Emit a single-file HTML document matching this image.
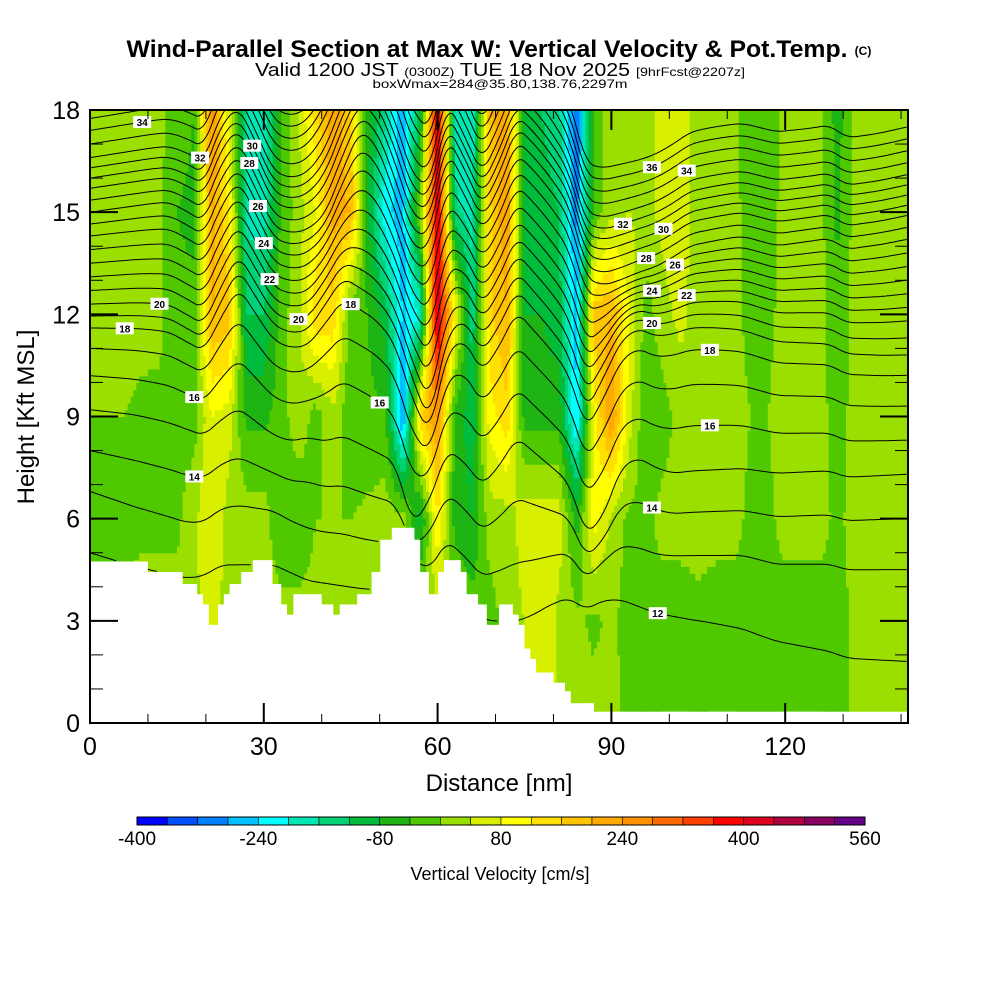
<!DOCTYPE html>
<html><head><meta charset="utf-8"><style>
html,body{margin:0;padding:0;background:#fff;width:1000px;height:1000px;overflow:hidden}
svg text{font-family:"Liberation Sans",sans-serif}
</style></head><body>
<svg id="chart" width="1000" height="1000" viewBox="0 0 1000 1000" xmlns="http://www.w3.org/2000/svg">
<defs><clipPath id="plotclip"><rect x="90" y="110" width="818" height="613"/></clipPath></defs>
<text x="487" y="57" text-anchor="middle" font-weight="bold" font-size="24" textLength="721" lengthAdjust="spacingAndGlyphs">Wind-Parallel Section at Max W: Vertical Velocity &amp; Pot.Temp.</text>
<text x="863" y="55" text-anchor="middle" font-weight="bold" font-size="12">(C)</text>
<text x="500" y="76" text-anchor="middle" font-size="18" textLength="490" lengthAdjust="spacingAndGlyphs">Valid 1200 JST <tspan font-size="12">(0300Z)</tspan> TUE 18 Nov 2025 <tspan font-size="12">[9hrFcst@2207z]</tspan></text>
<text x="500" y="88" text-anchor="middle" font-size="12" textLength="255" lengthAdjust="spacingAndGlyphs">boxWmax=284@35.80,138.76,2297m</text>
<g id="field" clip-path="url(#plotclip)"></g>
<g id="isentropes" clip-path="url(#plotclip)"></g>
<g id="clabels"></g>
<rect x="90" y="110" width="818" height="613" fill="none" stroke="#000" stroke-width="2"/>
<g id="axes"></g>
<text transform="translate(34,417) rotate(-90)" text-anchor="middle" font-size="24">Height [Kft MSL]</text>
<text x="499" y="791" text-anchor="middle" font-size="24">Distance [nm]</text>
<g id="colorbar"></g>
<text x="500" y="880" text-anchor="middle" font-size="18">Vertical Velocity [cm/s]</text>
</svg>
<script>
// ---- data ----
const levelsKft = [0,3,6,9,12,15,18];
const nodeStepNm = 3;
const w00k = [20,20,20,20,20,20,30,60,20,20,20,20,20,20,20,20,20,20,20,20,20,20,-20,-20,20,40,70,30,10,20,15,-10,-20,-20,-20,-10,-20,-20,-20,-10,-20,-20,-20,-20,10,15,15,15];
const w03k = [20,20,20,20,20,20,30,60,20,20,20,20,20,20,20,20,20,20,20,20,20,20,-20,-20,20,40,70,30,10,-10,10,-20,-20,-20,-20,-10,-20,-20,-20,-10,-20,-20,-20,-20,10,15,15,15];
const w06k = [-20,-20,-20,-10,-10,-10,30,80,20,20,20,-40,-40,0,0,0,10,20,20,-100,120,-60,-80,20,20,60,70,60,-60,100,30,-10,-10,15,15,15,15,15,-10,-10,15,15,15,-10,15,15,15,15];
const w09k = [0,0,0,-10,-10,-20,-20,80,60,-50,-50,-20,30,-20,30,-30,-30,-30,-300,150,250,-60,-100,100,150,-60,-60,-60,-250,100,250,60,-40,-20,20,15,15,15,0,0,15,15,15,-20,15,15,15,15];
const w12k = [20,20,20,15,10,-30,-30,200,180,-120,-120,-20,30,150,150,-30,-40,-100,-250,-200,450,100,-150,150,200,-80,-80,-100,-260,180,200,80,-20,30,50,20,15,10,-10,-10,15,15,15,-30,15,15,20,20];
const w15k = [15,15,15,15,10,-40,-50,220,120,-170,-180,-30,20,80,220,200,-80,-230,-260,0,420,-150,-180,150,240,-80,-100,-120,-300,-30,30,40,30,50,60,20,20,15,-20,-20,15,15,15,-50,15,15,20,20];
const w18k = [15,15,15,15,10,-20,-40,260,60,-180,-200,-40,40,150,240,150,-60,-150,-280,-100,420,-180,-200,200,220,-80,-120,-150,-320,-20,20,20,30,50,60,20,15,10,-20,-20,10,10,15,-60,10,15,20,20];
const wRows = [w00k,w03k,w06k,w09k,w12k,w15k,w18k];
const terrainStartNm = [0,10,16,18.5,19.5,20.5,22,23,24,26,28,31.5,33,34,35,40,42,43,46,48.5,50,52,56,57,58.5,60,61,64,65,67,68.5,70.5,73,74,75,76,77,80,82,83,87];
const terrainKft    = [4.76,4.45,4.1,3.8,3.5,2.9,3.5,3.8,4.1,4.45,4.8,4.1,3.5,3.2,3.8,3.5,3.2,3.5,3.8,4.45,5.4,5.75,5.4,4.45,3.8,4.45,4.8,4.45,3.8,3.5,2.9,3.5,3.2,2.9,2.2,1.9,1.5,1.2,0.95,0.6,0.35];
const thetaLevels   = [12,13,14,15,16,17,18,19,20,21,22,23,24,25,26,27,28,29,30,31,32,33,34,35,36,37];
const thetaStartKft = [5.0,6.8,8.0,9.2,10.2,11.0,11.6,11.95,12.3,12.7,13.1,13.5,13.9,14.3,14.65,15.0,15.35,15.7,16.0,16.3,16.6,17.0,17.4,17.75,18.1,18.45];
const thetaEndKft   = [1.8,4.5,6.0,7.3,8.3,9.3,10.2,10.8,11.3,11.8,12.2,12.6,13.0,13.4,13.8,14.2,14.55,14.9,15.2,15.5,15.8,16.1,16.45,16.8,17.15,17.5];
const labelTheta = [34,32,30,28,26,24,22,20,18,16,16,14,20,18,36,34,32,30,28,26,24,22,20,18,16,14,12];
const labelNm    = [9,19,28,27.5,29,30,31,36,45,50,18,18,12,6,97,103,92,99,96,101,97,103,97,107,107,97,98];
const cbEdges = [-400,-360,-320,-280,-240,-200,-160,-120,-80,-40,0,40,80,120,160,200,240,280,320,360,400,440,480,520,560];
const cbTickLabels = ["-400","-240","-80","80","240","400","560"];
const cbTickValues = [-400,-240,-80,80,240,400,560];
const xTickVals = [0,30,60,90,120];
const yTickVals = [0,3,6,9,12,15,18];
const colors = ["#0000ff","#0050ff","#0080ff","#00c0ff","#00ffff","#00e6b4","#00d278","#00bc3c","#1eb414","#50c800","#9bdf00","#d8f000","#ffff00","#ffe000","#ffc400","#ffaa00","#ff9000","#ff6a00","#ff4000","#ff0000","#e00020","#b00040","#880060","#640088"];

// ---- scales ----
const NS="http://www.w3.org/2000/svg";
const X0=90,X1=908,Y0=723,Y1=110,NMMAX=141.2,KMAX=18;
const X = nm => X0 + (nm/NMMAX)*(X1-X0);
const Y = k => Y0 - (k/KMAX)*(Y0-Y1);
function mk(tag,attrs,parent){const e=document.createElementNS(NS,tag);for(const a in attrs)e.setAttribute(a,attrs[a]);parent.appendChild(e);return e;}
function terrainAt(nm){let h=terrainKft[0];for(let i=0;i<terrainStartNm.length;i++){if(nm>=terrainStartNm[i])h=terrainKft[i];}return h;}
function wAt(nm,k){
  const nc=wRows[0].length-1;
  let fi=Math.max(0,Math.min(nc,nm/nodeStepNm)), fj=Math.max(0,Math.min(levelsKft.length-1,k/3));
  const i0=Math.min(nc-1,Math.floor(fi)), j0=Math.min(levelsKft.length-2,Math.floor(fj));
  const tx=fi-i0, ty=fj-j0;
  const a=wRows[j0][i0]*(1-tx)+wRows[j0][i0+1]*tx;
  const b=wRows[j0+1][i0]*(1-tx)+wRows[j0+1][i0+1]*tx;
  return a*(1-ty)+b*ty;
}
function bin(w){let i=Math.floor((w-cbEdges[0])/40);return Math.max(0,Math.min(colors.length-1,i));}

// ---- field ----
const field=document.getElementById('field');
const dnm=0.5, dk=0.2;
for(let nm=0;nm<NMMAX;nm+=dnm){
  const t=terrainAt(nm+dnm/2);
  let runStart=null, runBin=null;
  const flush=(kEnd)=>{
    if(runStart===null)return;
    const r=mk('rect',{x:X(nm).toFixed(1),y:Y(kEnd).toFixed(1),width:(X(nm+dnm)-X(nm)+0.6).toFixed(1),height:(Y(runStart)-Y(kEnd)+0.6).toFixed(1),fill:colors[runBin]},field);
    
    
  };
  for(let k=0;k<KMAX;k+=dk){
    if(k+dk<=t){continue;}
    const kc=Math.max(k,t);
    const b=bin(wAt(nm+dnm/2,k+dk/2));
    if(runStart===null){runStart=kc;runBin=b;}
    else if(b!==runBin){flush(k);runStart=k;runBin=b;}
  }
  flush(KMAX);
}

// ---- isentropes: displacement from integrated w at the level, end heights from picture ----
const iso=document.getElementById('isentropes');
const KDISP=0.002, step=0.25;
const tracks={};
thetaLevels.forEach((th,idx)=>{
  const base=thetaStartKft[idx];
  const raw=[]; let s=0;
  for(let nm=0;nm<=NMMAX+1e-6;nm+=step){raw.push([nm,s]); s+=KDISP*wAt(nm,base)*step;}
  const endRaw=raw[raw.length-1][1];
  const endTarget=thetaEndKft[idx]-base;
  let d='', pen=false; const pts=[];
  raw.forEach(([nm,v])=>{
    let h=base+v+(endTarget-endRaw)*(nm/NMMAX);
    const t=terrainAt(nm);
    const under=h<t;
    pts.push([nm,Math.max(h,t)]);
    if(!under){d+=(pen?'L':'M')+X(nm).toFixed(1)+' '+Y(h).toFixed(1);pen=true;}else pen=false;
  });
  tracks[th]=pts;
  const p=mk('path',{d:d,fill:'none',stroke:'#000','stroke-width':'1'},iso);
  
  
});
// labels
const cl=document.getElementById('clabels');
labelTheta.forEach((th,i)=>{
  const pts=tracks[th]; if(!pts)return;
  const j=Math.min(pts.length-1,Math.round(labelNm[i]/step));
  const px=X(pts[j][0]), py=Y(pts[j][1]);
  if(py<116||py>716)return;
  const g=mk('g',{},cl);
  
  
  mk('rect',{x:px-9,y:py-6,width:18,height:12,fill:'#fff'},g);
  const tx=mk('text',{x:px,y:py+4,'text-anchor':'middle','font-size':'10','font-weight':'bold'},g);
  tx.textContent=String(th);
});

// ---- axes ----
const ax=document.getElementById('axes');
for(let k=0;k<=18;k++){
  const maj=k%3===0, L=maj?28:13;
  const t1=mk('line',{x1:X0,x2:X0+L,y1:Y(k),y2:Y(k),stroke:'#000','stroke-width':maj?2:1},ax);
  
  
  const t2=mk('line',{x1:X1,x2:X1-L,y1:Y(k),y2:Y(k),stroke:'#000','stroke-width':maj?2:1},ax);
  
  
}
yTickVals.forEach(v=>{
  const t=mk('text',{x:80,y:Y(v)+9,'text-anchor':'end','font-size':'25'},ax);
  
  
  t.textContent=String(v);
});
for(let n=0;n<=140;n+=10){
  const maj=n%30===0, L=maj?20:9;
  const b=mk('line',{x1:X(n),x2:X(n),y1:Y0,y2:Y0-L,stroke:'#000','stroke-width':maj?2:1},ax);
  
  
  const tp=mk('line',{x1:X(n),x2:X(n),y1:Y1,y2:Y1+L,stroke:'#000','stroke-width':maj?2:1},ax);
  
  
}
xTickVals.forEach(v=>{
  const t=mk('text',{x:X(v),y:755,'text-anchor':'middle','font-size':'25'},ax);
  
  
  t.textContent=String(v);
});

// ---- colorbar ----
const cb=document.getElementById('colorbar');
const CB0=137,CB1=865,CBY=817,CBH=8;
const CX=v=>CB0+(v-cbEdges[0])/(cbEdges[cbEdges.length-1]-cbEdges[0])*(CB1-CB0);
for(let i=0;i<colors.length;i++){
  const r=mk('rect',{x:CX(cbEdges[i]),y:CBY,width:CX(cbEdges[i+1])-CX(cbEdges[i]),height:CBH,fill:colors[i],stroke:'#000','stroke-width':'0.6'},cb);
  
  
}
mk('rect',{x:CB0,y:CBY,width:CB1-CB0,height:CBH,fill:'none',stroke:'#000','stroke-width':'1'},cb);
cbTickValues.forEach((v,i)=>{
  const t=mk('text',{x:CX(v),y:845,'text-anchor':'middle','font-size':'19'},cb);
  
  
  t.textContent=cbTickLabels[i];
});
</script>
</body></html>
